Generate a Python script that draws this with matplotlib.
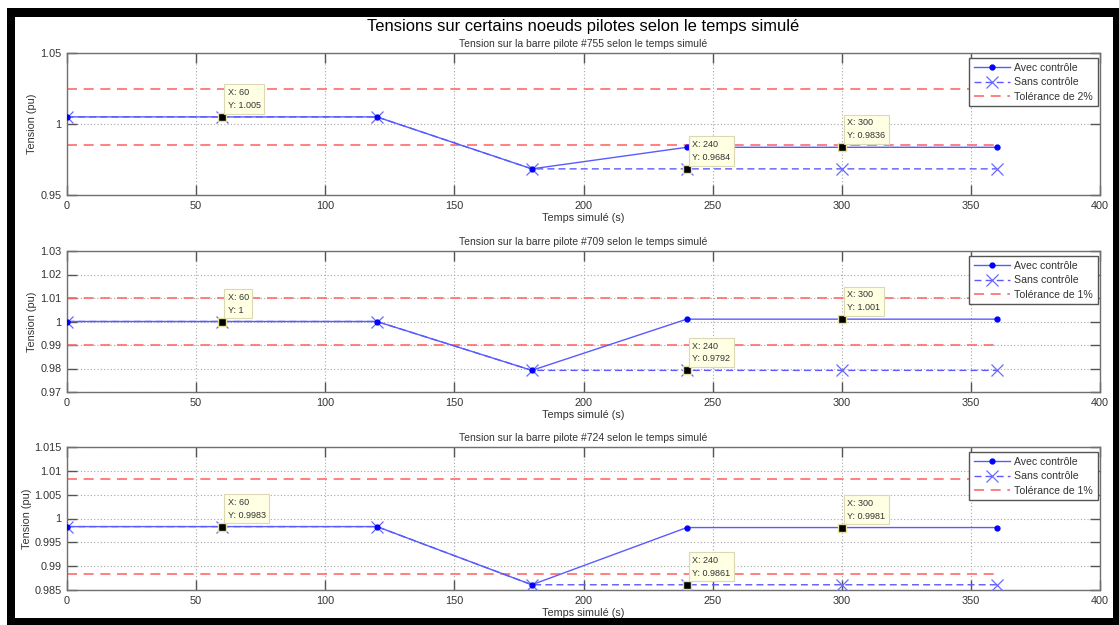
import matplotlib
matplotlib.use("Agg")
import matplotlib.pyplot as plt
from matplotlib.patches import Rectangle

plt.rcParams['font.family'] = ['Liberation Sans', 'DejaVu Sans']

# Simulated time (s)
temps = [0, 60, 120, 180, 240, 300, 360]

# Bus #755
avec_755 = [1.005, 1.005, 1.005, 0.9684, 0.9836, 0.9836, 0.9836]
sans_755 = [1.005, 1.005, 1.005, 0.9684, 0.9684, 0.9684, 0.9684]
tol_755 = [1.025, 0.985]

# Bus #709
avec_709 = [1.0, 1.0, 1.0, 0.9792, 1.001, 1.001, 1.001]
sans_709 = [1.0, 1.0, 1.0, 0.9792, 0.9792, 0.9792, 0.9792]
tol_709 = [1.01, 0.99]

# Bus #724
avec_724 = [0.9983, 0.9983, 0.9983, 0.9861, 0.9981, 0.9981, 0.9981]
sans_724 = [0.9983, 0.9983, 0.9983, 0.9861, 0.9861, 0.9861, 0.9861]
tol_724 = [1.0083, 0.9883]

titres = ["Tension sur la barre pilote #755 selon le temps simulé",
          "Tension sur la barre pilote #709 selon le temps simulé",
          "Tension sur la barre pilote #724 selon le temps simulé"]
tolerances = ["Tolérance de 2%", "Tolérance de 1%", "Tolérance de 1%"]
ylims = [(0.95, 1.05), (0.97, 1.03), (0.985, 1.015)]
yticks = [[0.95, 1.0, 1.05],
          [0.97, 0.98, 0.99, 1.0, 1.01, 1.02, 1.03],
          [0.985, 0.99, 0.995, 1.0, 1.005, 1.01, 1.015]]
xticks = [0, 50, 100, 150, 200, 250, 300, 350, 400]

# data tips: (time, series) -> series is 'avec' or 'sans'
tips = [[(60, 'avec'), (240, 'sans'), (300, 'avec')]] * 3

W, H = 1119, 625
fig = plt.figure(figsize=(W / 100, H / 100), dpi=100)
fig.patch.set_facecolor('white')


def px_rect(x0, y0, x1, y1, **kw):
    """Rectangle given in pixel coordinates measured from the top-left corner."""
    fig.add_artist(Rectangle((x0 / W, 1 - y1 / H), (x1 - x0) / W, (y1 - y0) / H,
                             transform=fig.transFigure, **kw))


# black window frame
for r in [(7, 8, 1119, 17), (7, 8, 15, 625), (1113, 8, 1119, 625), (7, 618, 1119, 625)]:
    px_rect(*r, facecolor='black', edgecolor='none', zorder=10)

# axes boxes (pixels: left, top, right, bottom)
boxes = [(67, 53, 1100, 195), (67, 251, 1100, 392), (67, 447, 1100, 590)]
ylab_x = [-0.029, -0.029, -0.034]

series = [(avec_755, sans_755, tol_755),
          (avec_709, sans_709, tol_709),
          (avec_724, sans_724, tol_724)]

line_blue = '#5a5aff'
txt_col = '#333333'

for i, ((l, t, r, b), (avec, sans, tol)) in enumerate(zip(boxes, series)):
    ax = fig.add_axes([l / W, 1 - b / H, (r - l) / W, (b - t) / H])
    ax.plot(temps, avec, '-', color=line_blue, lw=1.0, marker='.', ms=7,
            mfc='#0000ff', mec='#0000ff', label='Avec contrôle', zorder=4)
    ax.plot(temps, sans, '--', color=line_blue, lw=1.0, dashes=(5, 3), marker='x',
            ms=9, mew=0.9, mec='#6a6aff', label='Sans contrôle', zorder=3)
    tmin, tmax = temps[0], temps[-1]
    ax.plot([tmin, tmax], [tol[0], tol[0]], '--', color='#ff6b6b', lw=1.2,
            dashes=(6, 4), label=tolerances[i], zorder=2)
    ax.plot([tmin, tmax], [tol[1], tol[1]], '--', color='#ff6b6b', lw=1.2,
            dashes=(6, 4), zorder=2)

    ax.set_xlim(0, 400)
    ax.set_ylim(*ylims[i])
    ax.set_xticks(xticks)
    ax.set_yticks(yticks[i])
    ax.set_xticklabels([f"{v:g}" for v in xticks])
    ax.set_yticklabels([f"{v:g}" for v in yticks[i]])
    ax.grid(True, linestyle=(0, (1, 2)), color='#a8a8a8', lw=0.8, zorder=0)
    ax.tick_params(direction='in', length=7, width=1, color='#555555',
                   labelsize=7.8, labelcolor=txt_col, top=True, right=True, pad=4)
    for s in ax.spines.values():
        s.set_color('#707070')
        s.set_linewidth(1.0)

    ax.set_title(titres[i], fontsize=7.5, color=txt_col, pad=4)
    ax.set_xlabel("Temps simulé (s)", fontsize=7.8, color=txt_col, labelpad=2)
    ax.set_ylabel("Tension (pu)", fontsize=7.8, color=txt_col)
    ax.yaxis.set_label_coords(ylab_x[i], 0.5)

    leg = ax.legend(loc='upper right', bbox_to_anchor=(1.0, 1.0 - 3.0 / (b - t)),
                    fontsize=7.6, numpoints=1, handlelength=3.4,
                    handletextpad=0.45, labelspacing=0.42, borderpad=0.45,
                    borderaxespad=0.2, fancybox=False, framealpha=1)
    leg.get_frame().set_edgecolor('#555555')
    leg.get_frame().set_linewidth(1.0)
    for txt in leg.get_texts():
        txt.set_color(txt_col)

    for tx, which in tips[i]:
        vals = avec if which == 'avec' else sans
        ty = vals[temps.index(tx)]
        ax.plot([tx], [ty], 's', ms=6, mfc='black', mec='#e6dfa0', mew=1.0, zorder=6)
        ax.annotate(f"X: {tx:g}\nY: {ty:.4g}", xy=(tx, ty), xytext=(4, 5),
                    textcoords='offset points', ha='left', va='bottom',
                    fontsize=6.5, color=txt_col, linespacing=1.55, zorder=7,
                    bbox=dict(boxstyle='square,pad=0.4', fc='#ffffe4',
                              ec='#dcd8b4', lw=0.8))

fig.text((67 + 1100) / 2 / W, 1 - 27 / H,
         "Tensions sur certains noeuds pilotes selon le temps simulé",
         ha='center', va='center', fontsize=11.9, color='black')

fig.savefig("out.png", dpi=100)
